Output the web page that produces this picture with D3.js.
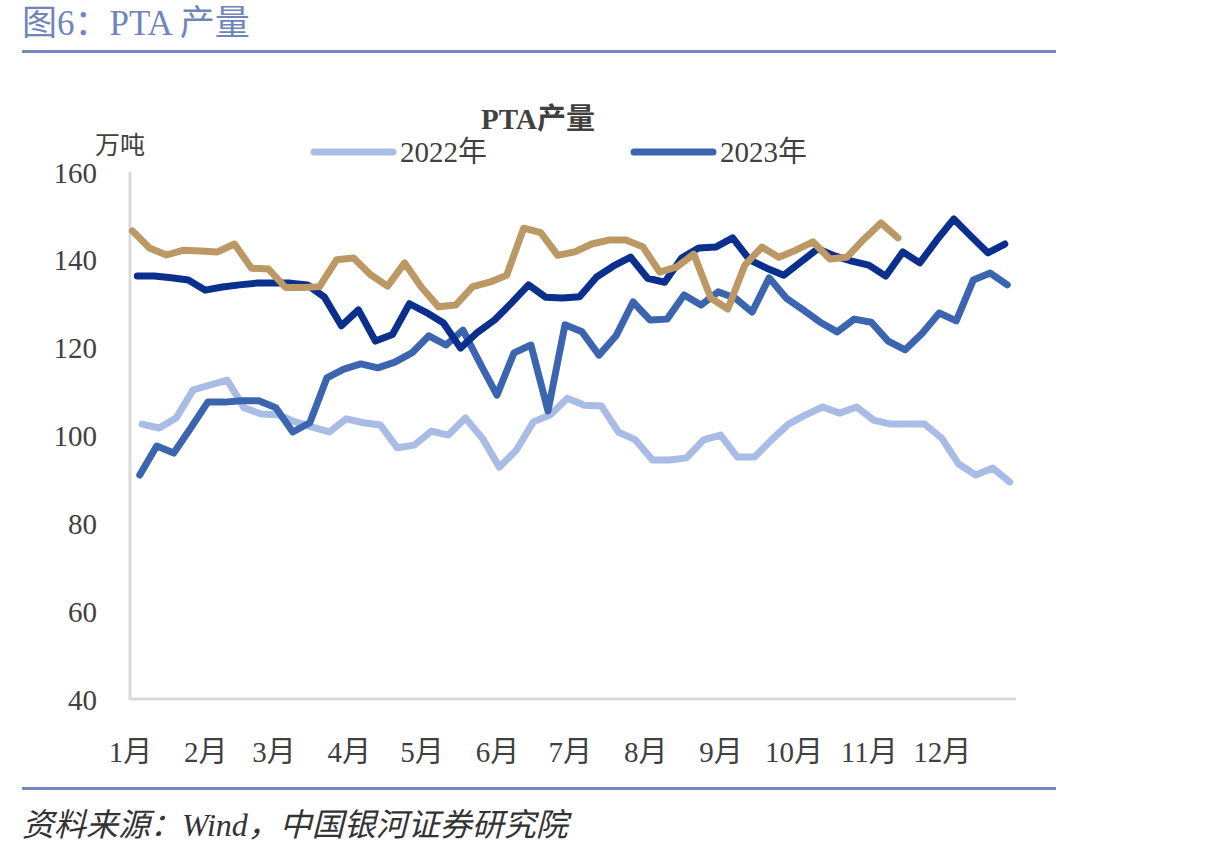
<!DOCTYPE html>
<html>
<head>
<meta charset="utf-8">
<script src="https://cdn.jsdelivr.net/npm/d3@7/dist/d3.min.js"></script>
<style>
  html, body { margin: 0; padding: 0; background: #fff; }
  svg { display: block; }
</style>
</head>
<body>
<svg id="chart" width="1210" height="855"></svg>
<script>
// ---------- data ----------
const monthLabels = ["1月","2月","3月","4月","5月","6月","7月","8月","9月","10月","11月","12月"];
const monthStartDays = [1, 32, 60, 91, 121, 152, 182, 213, 244, 274, 305, 335];
const yTickValues = [40, 60, 80, 100, 120, 140, 160];

const seriesNames = ["2022年", "2023年", "2024年", "2025年"];
const seriesStartDays = [6, 5, 4, 2];   // day-of-year of the first weekly observation
const seriesColors = ["#A8BCE5", "#3C65B0", "#0B2F8C", "#BC9865"];

const s2022 = [102.6,101.7,104.0,110.4,111.5,112.6,106.3,104.9,104.7,103.1,101.9,100.8,103.8,102.9,102.4,97.2,
               97.8,101.0,100.1,104.0,99.4,92.8,96.7,103.1,104.7,108.5,106.9,106.7,100.8,99.0,94.4,94.4,
               94.9,99.0,100.1,95.1,95.1,99.0,102.6,104.7,106.5,105.1,106.5,103.5,102.6,102.6,102.6,99.4,
               93.5,91.0,92.6,89.4];
const s2023 = [91.0,97.6,96.0,101.7,107.6,107.6,107.9,107.9,106.3,100.8,102.9,113.1,115.1,116.3,115.4,116.7,
               118.8,122.7,120.6,124.0,116.5,109.2,118.8,120.6,105.6,125.2,123.6,118.3,122.7,130.4,126.3,126.5,
               132.0,129.7,132.7,131.3,128.1,135.9,131.3,128.6,125.8,123.6,126.5,125.8,121.5,119.5,123.3,127.9,
               126.1,135.4,137.0,134.3];
const s2024 = [136.3,136.3,135.9,135.4,133.1,133.8,134.3,134.7,134.7,134.7,134.3,131.5,125.0,128.6,121.5,123.0,
               130.0,128.0,125.6,119.9,123.5,126.3,130.2,134.3,131.5,131.3,131.6,136.1,138.6,140.6,135.8,134.9,
               140.4,142.7,142.9,145.0,140.0,138.1,136.5,139.5,142.5,140.9,139.7,138.8,136.3,141.8,139.3,144.5,
               149.3,145.4,141.6,143.6];
const s2025 = [146.6,142.7,141.1,142.2,142.0,141.8,143.6,138.1,137.9,133.7,133.7,133.9,140.0,140.4,136.6,134.0,
               139.3,133.7,129.3,129.7,133.9,134.9,136.5,147.2,146.2,141.0,141.8,143.6,144.5,144.5,143.0,137.2,
               138.4,141.3,131.3,128.8,138.8,142.9,140.6,142.2,144.1,140.2,140.6,144.7,148.4,145.0];
const seriesValues = [s2022, s2023, s2024, s2025];
const legendSeries = [0, 1];   // only these legend entries are visible in the reference

// ---------- drawing ----------
const svg = d3.select("#chart");
const numFont = "'Liberation Serif', 'Noto Sans CJK SC', serif";
const cjkFont = "'Noto Sans CJK SC', sans-serif";
const textColor = "#404040";
const ruleColor = "#7589BE";

// header
svg.append("text")
  .attr("x", 22).attr("y", 35)
  .attr("font-family", numFont)
  .attr("font-size", 35)
  .attr("fill", "#6F86BA")
  .text("图6：PTA 产量");
svg.append("rect").attr("x", 22).attr("y", 50).attr("width", 1034).attr("height", 3).attr("fill", ruleColor);

// footer
svg.append("rect").attr("x", 22).attr("y", 787).attr("width", 1034).attr("height", 3).attr("fill", ruleColor);
svg.append("text")
  .attr("x", 22).attr("y", 836)
  .attr("font-family", numFont)
  .attr("font-style", "italic")
  .attr("font-size", 32)
  .attr("fill", "#333")
  .text("资料来源：Wind，中国银河证券研究院");

// scales
const x = d3.scaleLinear().domain([1, 366]).range([130, 1017]);
const y = d3.scaleLinear().domain([40, 160]).range([699, 172]);

// axis lines
svg.append("line").attr("x1", 130).attr("x2", 130).attr("y1", y(160)).attr("y2", y(40) + 1)
  .attr("stroke", "#D9D9D9").attr("stroke-width", 3);
svg.append("line").attr("x1", 130).attr("x2", 1016).attr("y1", y(40)).attr("y2", y(40))
  .attr("stroke", "#D9D9D9").attr("stroke-width", 3);

// y axis labels
const yAxis = d3.axisLeft(y).tickValues(yTickValues).tickSize(0).tickPadding(0);
const gy = svg.append("g").attr("transform", "translate(97,0)").call(yAxis);
gy.select(".domain").remove();
gy.selectAll("text")
  .attr("font-family", numFont).attr("font-size", 29).attr("fill", textColor)
  .attr("dy", "0.35em");

// x axis labels
const xAxis = d3.axisBottom(x).tickValues(monthStartDays)
  .tickFormat((d, i) => monthLabels[i]).tickSize(0).tickPadding(0);
const gx = svg.append("g").attr("transform", "translate(0,742)").call(xAxis);
gx.select(".domain").remove();
gx.selectAll("text")
  .attr("font-family", numFont).attr("font-size", 29).attr("fill", textColor)
  .attr("dy", "0.7em");

// unit label
svg.append("text")
  .attr("x", 95).attr("y", 154)
  .attr("font-family", cjkFont).attr("font-size", 25).attr("fill", textColor)
  .text("万吨");

// chart title
svg.append("text")
  .attr("x", 538).attr("y", 129)
  .attr("text-anchor", "middle")
  .attr("font-family", numFont).attr("font-weight", "bold")
  .attr("font-size", 29).attr("fill", textColor)
  .text("PTA产量");

// lines
const line = d3.line()
  .x(d => x(d.day))
  .y(d => y(d.v));

seriesValues.forEach((vals, si) => {
  const pts = vals.map((v, i) => ({ day: seriesStartDays[si] + 7 * i, v }));
  svg.append("path")
    .datum(pts)
    .attr("d", line)
    .attr("fill", "none")
    .attr("stroke", seriesColors[si])
    .attr("stroke-width", 7)
    .attr("stroke-linejoin", "round")
    .attr("stroke-linecap", "round");
});

// legend
const legendX = [314, 634];
legendSeries.forEach((si, k) => {
  const lx = legendX[k];
  svg.append("line")
    .attr("x1", lx).attr("x2", lx + 79)
    .attr("y1", 152).attr("y2", 152)
    .attr("stroke", seriesColors[si]).attr("stroke-width", 7)
    .attr("stroke-linecap", "round");
  svg.append("text")
    .attr("x", lx + 86).attr("y", 162)
    .attr("font-family", numFont).attr("font-size", 29).attr("fill", textColor)
    .text(seriesNames[si]);
});
</script>
</body>
</html>
